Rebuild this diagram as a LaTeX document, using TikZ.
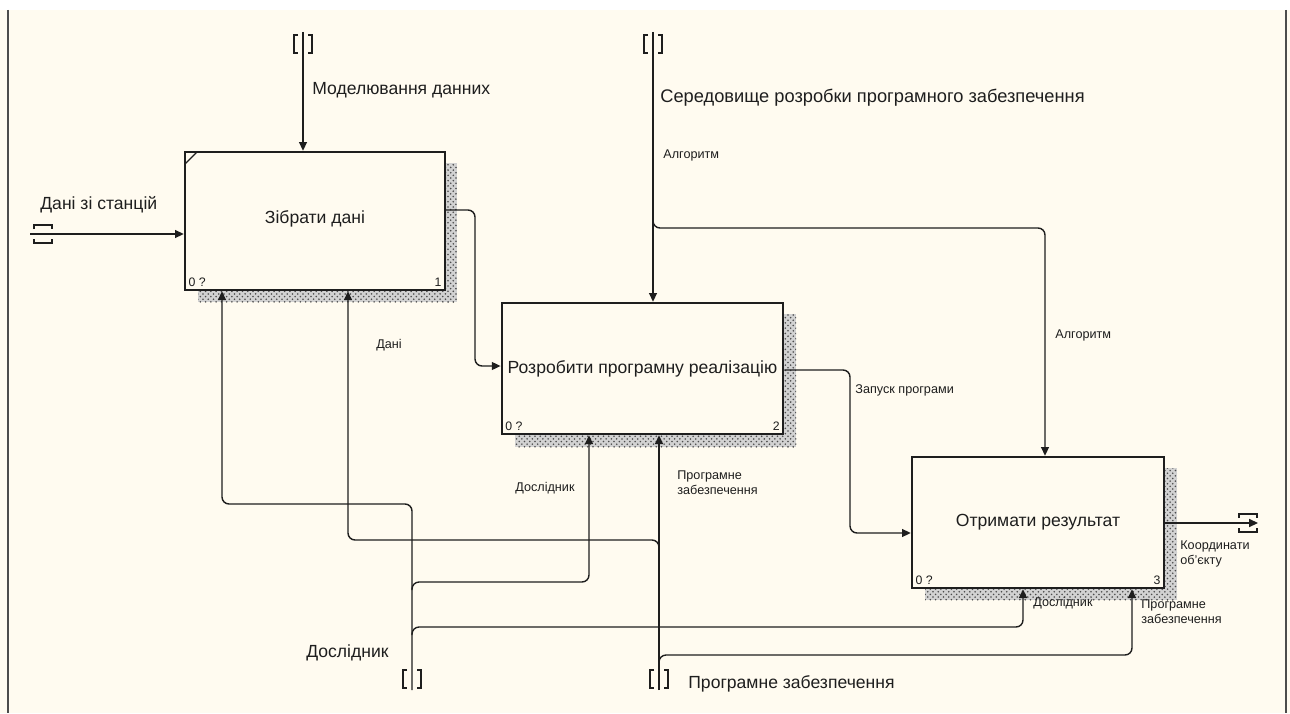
\documentclass[tikz,border=0pt]{standalone}
\usepackage{fontspec}
\setmainfont{Liberation Sans}
\usetikzlibrary{arrows.meta, patterns, positioning}
\definecolor{paper}{RGB}{255,251,240}
\definecolor{ink}{RGB}{30,30,30}
\tikzset{process/.style = {shape = rectangle, draw = ink, line width = 1.4pt, fill = paper, text = ink, font = \fontsize{10}{12}\selectfont}}
\tikzset{arrow/.style = {draw = ink, line width = 0.8pt, rounded corners = 4pt, -{Triangle[length = 5pt, width = 4.5pt]}}}
\tikzset{biglabel/.style = {anchor = west, inner sep = 0pt, text = ink, font = \fontsize{10}{12}\selectfont}}
\tikzset{smalllabel/.style = {anchor = west, inner sep = 0pt, align = left, text = ink, font = \fontsize{7.2}{8.5}\selectfont}}
\tikzset{corner/.style = {inner sep = 2.5pt, text = ink, font = \fontsize{7}{8}\selectfont}}
\tikzset{shadow/.style = {fill = gray!35, postaction = {pattern = crosshatch dots, pattern color = black!70}}}
\tikzset{tunnel/.pic = {\draw[draw = ink, line width = 0.9pt] (-5,-9) -- (-9,-9) -- (-9,9) -- (-5,9);
                       \draw[draw = ink, line width = 0.9pt] (5,-9) -- (9,-9) -- (9,9) -- (5,9);}}

\begin{document}
\begin{tikzpicture}[x = 0.02cm, y = -0.02cm]
				\useasboundingbox (0,0) rectangle (1290,713);
				\fill[white] (0,0) rectangle (1290,713);
				\fill[paper] (0,10) rectangle (1290,713);
				\draw[line width = 1.2pt, gray!60!black] (8,10) -- (8,713);
				\draw[line width = 1.5pt, gray!60!black] (1286,10) -- (1286,713);

				% shadows
				\fill[shadow] (445,163) rectangle (457,302);
				\fill[shadow] (198,290) rectangle (457,302);
				\fill[shadow] (783,314) rectangle (796,447);
				\fill[shadow] (515,434) rectangle (796,447);
				\fill[shadow] (1164,468) rectangle (1177,600);
				\fill[shadow] (925,588) rectangle (1177,600);

				% activities
				\node[process, minimum width = 5.2cm, minimum height = 2.76cm] (collect) at (315,221) {\raisebox{0.16cm}{Зібрати дані}};
				\node[process, minimum width = 5.62cm, minimum height = 2.62cm] (implement) at (642.5,368.5) {Розробити програмну реалізацію};
				\node[process, minimum width = 5.04cm, minimum height = 2.62cm] (obtain) at (1038,522.5) {\raisebox{0.1cm}{Отримати результат}};
				\draw[draw = ink, line width = 0.8pt] (185,164) -- (197,152);

				\node[corner, anchor = south west] (collect0) at (collect.south west) {0 ?};
				\node[corner, anchor = south east] (collect1) at (collect.south east) {1};
				\node[corner, anchor = south west] (implement0) at (implement.south west) {0 ?};
				\node[corner, anchor = south east] (implement1) at (implement.south east) {2};
				\node[corner, anchor = south west] (obtain0) at (obtain.south west) {0 ?};
				\node[corner, anchor = south east] (obtain1) at (obtain.south east) {3};

				% boundary ends
				\coordinate (tmodel) at (303,32);
				\coordinate (tstation) at (30,234);
				\coordinate (tenv) at (653,32);
				\coordinate (tresult) at (1258,523);
				\coordinate (tres) at (412,690);
				\coordinate (tsoft) at (659,690);

				\pic at (303,44) {tunnel};
				\pic at (653,44) {tunnel};
				\pic[rotate = 90] at (43,234) {tunnel};
				\pic[rotate = 90] at (1248,523) {tunnel};
				\pic at (412,679) {tunnel};
				\pic at (659,679) {tunnel};

				% arrows
				\draw[arrow] (tmodel) -- (tmodel |- collect.north);
				\draw[arrow] (tstation) -- (tstation -| collect.west);
				\draw[arrow] (collect.east |- 0,210) -- (475,210) -- (475,366) -- (implement.west |- 0,366);
				\draw[arrow] (tenv) -- (tenv |- implement.north);
				\draw[arrow] (653,222) |- (1045,228) -- (1045,0 |- obtain.north);
				\draw[arrow] (implement.east |- 0,370) -- (850,370) -- (850,533) -- (obtain.west |- 0,533);
				\draw[arrow] (obtain.east |- 0,523) -- (tresult);
				\draw[arrow] (tres) -- (412,504) -- (222,504) -- (222,0 |- collect.south);
				\draw[arrow] (412,590) |- (589,582) -- (589,0 |- implement.south);
				\draw[arrow] (412,635) |- (1023,627) -- (1023,0 |- obtain.south);
				\draw[arrow] (tsoft) -- (tsoft |- implement.south);
				\draw[arrow] (659,548) |- (348,540) -- (348,0 |- collect.south);
				\draw[arrow] (659,663) |- (1132,655) -- (1132,0 |- obtain.south);

				% labels
				\node[biglabel] (lmodel) at (312,90) {Моделювання данних};
				\node[biglabel] (lstation) at (40,205) {Дані зі станцій};
				\node[biglabel, font = \fontsize{10.4}{12}\selectfont] (lenv) at (660,98) {Середовище розробки програмного забезпечення};
				\node[biglabel] (lres) at (306,653) {Дослідник};
				\node[biglabel] (lsoft) at (688,684) {Програмне забезпечення};
				\node[smalllabel] (lalg1) at (663,155) {Алгоритм};
				\node[smalllabel] (lalg2) at (1055,335) {Алгоритм};
				\node[smalllabel] (lrun) at (855,390) {Запуск програми};
				\node[smalllabel] (ldata) at (376,345) {Дані};
				\node[smalllabel] (lres2) at (515,488) {Дослідник};
				\node[smalllabel] (lsoft2) at (677,483) {Програмне\\забезпечення};
				\node[smalllabel] (lcoord) at (1180,554) {Координати\\об'єкту};
				\node[smalllabel] (lres3) at (1033,603) {Дослідник};
				\node[smalllabel] (lsoft3) at (1141,612) {Програмне\\забезпечення};
			\end{tikzpicture}
\end{document}
